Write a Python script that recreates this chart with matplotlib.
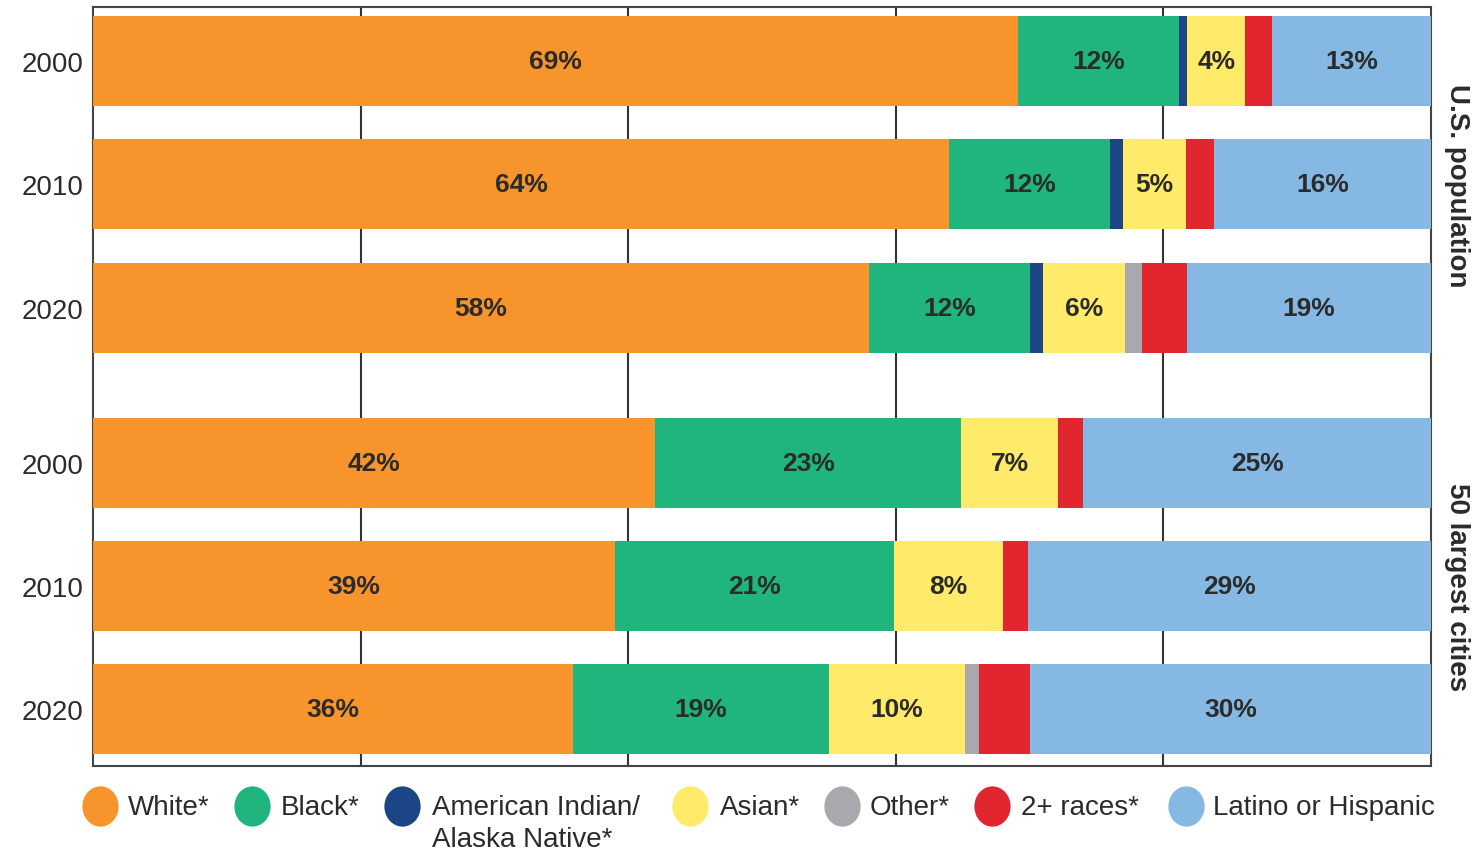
import numpy as np
import matplotlib
matplotlib.use("Agg")
import matplotlib.pyplot as plt
from matplotlib.lines import Line2D
from matplotlib.path import Path

plt.rcParams['font.family'] = ['Liberation Sans', 'DejaVu Sans']

# ===== data (percent of population) =====
years = ["2000", "2010", "2020", "2000", "2010", "2020"]
groups = [0, 0, 0, 1, 1, 1]          # 0 = U.S. population, 1 = 50 largest cities
group_names = ["U.S. population", "50 largest cities"]

white     = [69.1, 64.0, 58.0, 42.0, 39.0, 35.9]
black     = [12.1, 12.0, 12.0, 22.9, 20.9, 19.1]
am_indian = [0.6, 1.0, 1.0, 0.0, 0.0, 0.0]
asian     = [4.3, 4.7, 6.1, 7.2, 8.1, 10.2]
other     = [0.0, 0.0, 1.3, 0.0, 0.0, 1.0]
two_plus  = [2.0, 2.1, 3.4, 1.9, 1.9, 3.8]
latino    = [11.9, 16.2, 18.2, 26.0, 30.1, 30.0]

white_lbl  = ["69%", "64%", "58%", "42%", "39%", "36%"]
black_lbl  = ["12%", "12%", "12%", "23%", "21%", "19%"]
asian_lbl  = ["4%", "5%", "6%", "7%", "8%", "10%"]
latino_lbl = ["13%", "16%", "19%", "25%", "29%", "30%"]

series = [
    ("White*", white, "#F7942B", white_lbl),
    ("Black*", black, "#1FB57C", black_lbl),
    ("American Indian/\nAlaska Native*", am_indian, "#1C4587", None),
    ("Asian*", asian, "#FFEA6A", asian_lbl),
    ("Other*", other, "#A7A9AC", None),
    ("2+ races*", two_plus, "#E1262F", None),
    ("Latino or Hispanic", latino, "#85B8E2", latino_lbl),
]

TEXT = "#2B2B2B"
W, H = 1481, 854
GAP = 0.26
ypos = np.arange(len(years)) + GAP * np.array(groups)

fig = plt.figure(figsize=(W / 100, H / 100), dpi=100)
ax = fig.add_axes([93 / W, 1 - 767 / H, (1431 - 93) / W, (767 - 8) / H])

left = np.zeros(len(years))
for name, vals, color, lbls in series:
    vals = np.array(vals)
    ax.barh(ypos, vals, left=left, height=0.73, color=color, zorder=3)
    if lbls:
        for y, l, v, s in zip(ypos, left, vals, lbls):
            ax.text(l + v / 2, y, s, ha="center", va="center",
                    fontsize=19, fontweight="bold", color=TEXT, zorder=4)
    left += vals

ax.set_xlim(0, 100)
ax.set_ylim(ypos[-1] + 0.46, -0.44)
ax.set_xticks([20, 40, 60, 80])
ax.set_xticklabels([])
ax.tick_params(axis="x", length=0)
ax.tick_params(axis="y", length=0, pad=7, labelsize=20, labelcolor=TEXT)
ax.set_yticks(ypos)
ax.set_yticklabels(years)
ax.grid(axis="x", color="#333333", linewidth=1.5, zorder=0)
for sp in ax.spines.values():
    sp.set_color("#444444")
    sp.set_linewidth(1.5)

# group labels on the right
for g, name in enumerate(group_names):
    yc = ypos[np.array(groups) == g].mean()
    ax.text(1.010, yc, name, transform=ax.get_yaxis_transform(),
            rotation=-90, ha="left", va="center", fontsize=20,
            fontweight="bold", color=TEXT)

# legend, placed by hand (marker x, text x in pixels)
circle = Path.unit_circle()
oval = Path(circle.vertices * [0.9, 1.0], circle.codes)
mark_x = [100, 252, 402, 690, 842, 992, 1186]
text_x = [128, 281, 432, 720, 870, 1021, 1213]
leg_y = 807
for (name, _, color, _), mx, tx in zip(series, mark_x, text_x):
    fig.add_artist(Line2D([mx / W], [1 - leg_y / H], marker=oval,
                          markersize=29, linestyle="none",
                          markerfacecolor=color, markeredgecolor="none",
                          transform=fig.transFigure))
    for i, line in enumerate(name.split("\n")):
        fig.text(tx / W, 1 - (leg_y + 8 + 32 * i) / H, line,
                 ha="left", va="baseline", fontsize=20, color=TEXT)

fig.savefig("out.png", dpi=100)
